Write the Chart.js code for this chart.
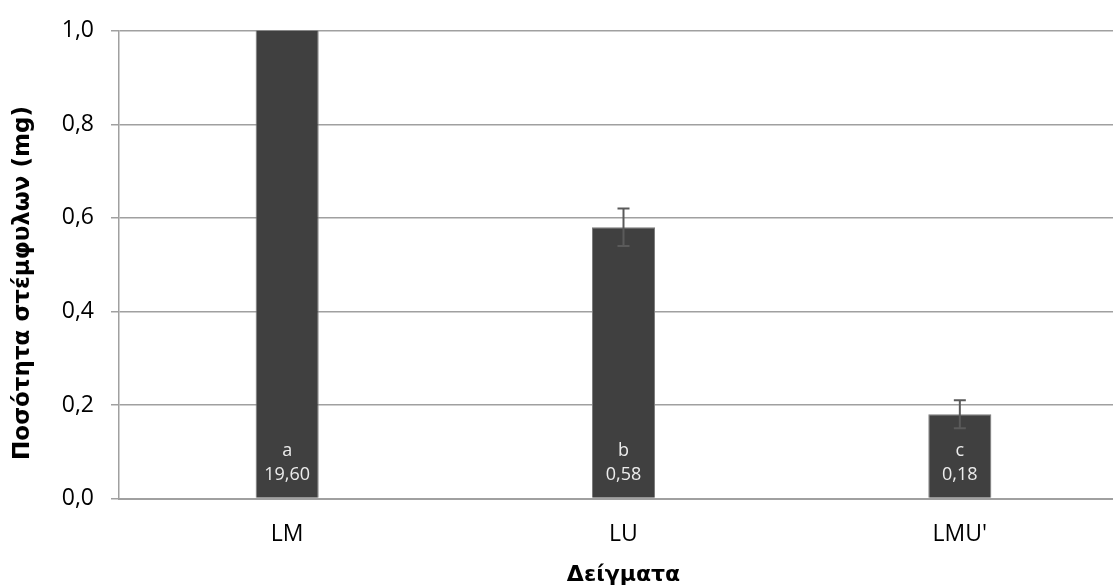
<!DOCTYPE html>
<html>
<head>
<meta charset="utf-8">
<script src="https://cdn.jsdelivr.net/npm/chart.js@4/dist/chart.umd.min.js"></script>
<style>
  html, body { margin: 0; padding: 0; background: #fff; overflow: hidden; }
  #wrap { width: 1130px; height: 588px; }
</style>
</head>
<body>
<div id="wrap"><canvas id="c" width="1130" height="588"></canvas></div>
<script>
// Samples and measured stemphylium amounts (mg)
const categories = ['LM', 'LU', "LMU'"];
const amounts = [19.60, 0.58, 0.18];
const errors = [null, 0.04, 0.03];
const letters = ['a', 'b', 'c'];
const yTicks = [0, 0.2, 0.4, 0.6, 0.8, 1.0];
const yTitle = 'Ποσότητα στέμφυλων (mg)';
const xTitle = 'Δείγματα';

const FONT = '"Open Sans", Lato, sans-serif';
const TITLE_FONT = '"DejaVu Sans", sans-serif';

const fmt = (v, d) => v.toFixed(d).replace('.', ',');

// Error bars with end caps
const errorBarPlugin = {
  id: 'errorBars',
  afterDatasetsDraw(chart) {
    const { ctx, scales: { y } } = chart;
    const meta = chart.getDatasetMeta(0);
    ctx.save();
    ctx.beginPath();
    ctx.rect(chart.chartArea.left, chart.chartArea.top - 10, chart.chartArea.width, chart.chartArea.height + 10);
    ctx.clip();
    ctx.strokeStyle = '#5a5a5a';
    ctx.lineWidth = 2;
    meta.data.forEach((bar, i) => {
      const e = errors[i];
      if (e == null) return;
      const yTop = y.getPixelForValue(amounts[i] + e);
      const yBot = y.getPixelForValue(amounts[i] - e);
      const x = bar.x;
      ctx.beginPath();
      ctx.moveTo(x, yTop); ctx.lineTo(x, yBot);
      ctx.moveTo(x - 6, yTop); ctx.lineTo(x + 6, yTop);
      ctx.moveTo(x - 6, yBot); ctx.lineTo(x + 6, yBot);
      ctx.stroke();
    });
    ctx.restore();
  }
};

// Group letter and value written inside each bar, near its base
const barLabelPlugin = {
  id: 'barLabels',
  afterDatasetsDraw(chart) {
    const { ctx, scales: { y } } = chart;
    const meta = chart.getDatasetMeta(0);
    const base = y.getPixelForValue(0);
    ctx.save();
    ctx.fillStyle = '#ececec';
    ctx.font = '18px ' + FONT;
    ctx.textAlign = 'center';
    ctx.textBaseline = 'middle';
    meta.data.forEach((bar, i) => {
      ctx.fillText(letters[i], bar.x, base - 48);
      ctx.fillText(fmt(amounts[i], 2), bar.x, base - 23.5);
    });
    ctx.restore();
  }
};

// Vertical axis title, rotated, sitting slightly below the plot's middle
const yTitlePlugin = {
  id: 'yTitle',
  afterDraw(chart) {
    const { ctx } = chart;
    ctx.save();
    ctx.translate(23, 283);
    ctx.rotate(-Math.PI / 2);
    ctx.fillStyle = '#000';
    ctx.font = 'bold 23px ' + TITLE_FONT;
    ctx.textAlign = 'center';
    ctx.textBaseline = 'middle';
    ctx.fillText(yTitle, 0, 0);
    ctx.restore();
  }
};

new Chart(document.getElementById('c'), {
  type: 'bar',
  data: {
    labels: categories,
    datasets: [{
      data: amounts,
      backgroundColor: '#404040',
      borderColor: '#7a7a7a',
      borderWidth: 1,
      categoryPercentage: 1,
      barPercentage: 0.1875
    }]
  },
  options: {
    responsive: false,
    animation: false,
    devicePixelRatio: 1,
    layout: { padding: { top: 29, right: 2, bottom: 0, left: 0 } },
    plugins: { legend: { display: false }, tooltip: { enabled: false } },
    scales: {
      x: {
        grid: { display: false },
        border: { display: true, color: '#a0a0a0', width: 2 },
        ticks: { color: '#000', font: { family: FONT, size: 23 }, padding: 14 },
        title: {
          display: true, text: xTitle, color: '#000',
          font: { family: TITLE_FONT, size: 22, weight: 'bold' },
          padding: { top: 0, bottom: 0 }
        },
        afterFit(scale) { scale.height = 89.5; }
      },
      y: {
        min: 0, max: 1.0,
        afterBuildTicks(scale) { scale.ticks = yTicks.map(v => ({ value: v })); },
        grid: { color: '#a0a0a0', lineWidth: 1.5, tickLength: 8, drawTicks: true },
        border: { display: true, color: '#a0a0a0', width: 1.5 },
        ticks: {
          color: '#000', font: { family: FONT, size: 23 }, padding: 17,
          callback: v => fmt(v, 1)
        },
        title: { display: false },
        afterFit(scale) { scale.width = 119; }
      }
    }
  },
  plugins: [errorBarPlugin, barLabelPlugin, yTitlePlugin]
});
</script>
</body>
</html>
